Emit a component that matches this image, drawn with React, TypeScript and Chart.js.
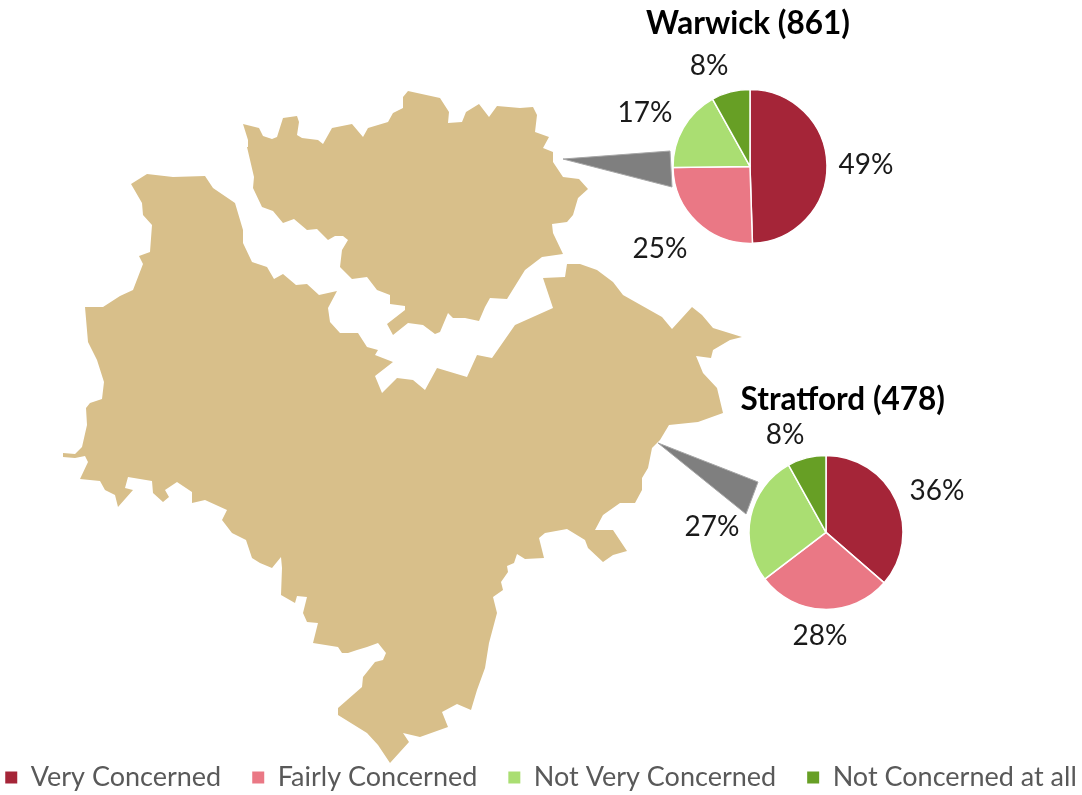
import React, { useEffect, useRef } from "react";
import { Chart, registerables } from "chart.js";

Chart.register(...registerables);

const FONT = "Lato, 'Open Sans', sans-serif";

const categories = ["Very Concerned", "Fairly Concerned", "Not Very Concerned", "Not Concerned at all"];
const warwickValues = [49, 25, 17, 8];
const stratfordValues = [36, 28, 27, 8];
const warwickTitle = "Warwick (861)";
const stratfordTitle = "Stratford (478)";
const sliceColors = ["#a52538", "#ea7885", "#aade72", "#679f25"];

type P = [number, number];

// Map outlines, in image units
const warwickOutline: P[] = [
  [243,124],[259,128],[263,136],[272,139],[277,137],[283,118],[297,116],[299,122],[297,135],[302,138],[318,140],[323,144],
  [332,128],[352,124],[363,137],[368,128],[388,122],[393,113],[403,108],[403,97],[408,91],[440,98],[449,112],[448,123],
  [462,122],[466,112],[479,104],[489,117],[497,106],[520,108],[533,107],[537,115],[535,132],[549,137],[543,148],[553,152],
  [553,162],[563,177],[579,179],[588,189],[578,198],[573,215],[567,222],[552,224],[553,233],[563,254],[542,257],[525,270],
  [507,299],[490,298],[485,307],[479,321],[465,318],[453,318],[448,313],[440,332],[435,334],[423,325],[408,323],[393,335],
  [387,324],[405,310],[405,306],[390,304],[390,295],[377,290],[367,277],[352,279],[340,267],[342,250],[348,240],[343,236],
  [335,236],[328,240],[317,229],[307,230],[294,219],[283,223],[273,211],[262,207],[253,188],[254,177],[247,147],[248,140],
];
const southOutline: P[] = [
  [131,184],[147,174],[173,177],[205,176],[213,188],[235,203],[243,230],[243,243],[252,262],[267,267],[274,279],[283,274],
  [296,285],[307,284],[319,295],[337,291],[328,308],[330,322],[340,333],[358,333],[367,347],[378,350],[375,355],[393,362],
  [375,376],[382,393],[397,378],[413,380],[425,390],[437,368],[467,377],[477,355],[492,358],[515,325],[553,308],[543,278],
  [565,277],[567,264],[580,264],[597,270],[613,282],[623,295],[662,317],[672,329],[692,307],[702,315],[713,328],[742,337],
  [730,340],[713,350],[711,358],[696,356],[703,373],[717,388],[723,413],[698,422],[669,425],[660,440],[652,448],[648,468],
  [642,478],[642,490],[635,503],[620,503],[603,515],[595,530],[613,530],[627,551],[613,555],[603,562],[588,548],[585,540],
  [567,529],[545,533],[539,538],[544,558],[525,559],[517,554],[514,563],[507,566],[508,572],[501,582],[503,590],[493,597],
  [497,613],[489,643],[485,668],[477,690],[471,710],[457,704],[442,712],[448,727],[420,737],[403,733],[409,742],[390,763],
  [378,745],[367,733],[338,715],[338,708],[362,687],[363,677],[375,662],[383,660],[386,653],[378,643],[367,647],[357,650],
  [348,653],[342,653],[338,647],[313,643],[318,623],[307,622],[303,613],[307,597],[297,596],[295,603],[281,595],[282,568],
  [281,557],[272,568],[260,563],[252,558],[246,540],[232,533],[222,520],[227,510],[205,500],[192,503],[192,492],[177,482],
  [165,490],[169,497],[163,502],[153,493],[152,481],[128,477],[125,488],[133,490],[118,507],[115,495],[105,490],[100,481],
  [80,479],[88,462],[85,456],[75,458],[63,457],[63,453],[75,454],[82,447],[87,425],[86,408],[90,403],[102,399],[104,382],
  [97,360],[88,342],[85,307],[103,307],[120,296],[133,290],[143,264],[139,256],[150,252],[152,225],[143,215],[142,203],
];
const warwickPointer: P[] = [[563,159],[670,151],[672,187]];
const stratfordPointer: P[] = [[658,443],[758,482],[746,514]];

const toXY = (pts: P[]) => [...pts, pts[0]].map(([x, y]) => ({ x, y }));

const outlineSet = (pts: P[], color: string, border: string, width: number) => ({
  data: toXY(pts),
  showLine: true,
  fill: "shape",
  tension: 0,
  pointRadius: 0,
  backgroundColor: color,
  borderColor: border,
  borderWidth: width,
});

const labelPlugin = {
  id: "sliceLabels",
  afterDatasetsDraw(chart: any, _a: any, opts: any) {
    const { ctx } = chart;
    const arcs = chart.getDatasetMeta(0).data;
    const values = chart.data.datasets[0].data;
    ctx.save();
    ctx.font = `28px ${FONT}`;
    ctx.fillStyle = "#1a1a1a";
    ctx.textAlign = "center";
    ctx.textBaseline = "middle";
    arcs.forEach((arc: any, i: number) => {
      const [dx, dy] = opts.offsets[i];
      ctx.fillText(`${values[i]}%`, arc.x + dx, arc.y + dy);
    });
    ctx.restore();
  },
};

const pieConfig = (
  values: number[],
  title: string,
  titleAlign: "start" | "end",
  titleTop: number,
  padding: any,
  offsets: P[]
) => ({
  type: "pie" as const,
  plugins: [labelPlugin],
  data: {
    labels: categories,
    datasets: [{ data: values, backgroundColor: sliceColors, borderColor: "#ffffff", borderWidth: 1.5, radius: 77 }],
  },
  options: {
    responsive: false,
    animation: false as const,
    events: [],
    layout: { padding },
    plugins: {
      legend: { display: false },
      tooltip: { enabled: false },
      title: {
        display: true,
        text: title,
        align: titleAlign,
        color: "#000000",
        font: { family: FONT, size: 31.5, weight: "bold" as const },
        padding: { top: titleTop, bottom: 0 },
      },
      sliceLabels: { offsets },
    },
  },
});

const abs = (left: number, top: number): React.CSSProperties => ({ position: "absolute", left, top, display: "block" });

export default function App() {
  const mapRef = useRef<HTMLCanvasElement>(null);
  const warwickRef = useRef<HTMLCanvasElement>(null);
  const stratfordRef = useRef<HTMLCanvasElement>(null);
  const legendRef = useRef<HTMLCanvasElement>(null);

  useEffect(() => {
    const charts: Chart[] = [];
    charts.push(
      new Chart(mapRef.current!, {
        type: "scatter",
        data: {
          datasets: [
            outlineSet(southOutline, "#d8bf8a", "#d8bf8a", 0),
            outlineSet(warwickOutline, "#d8bf8a", "#d8bf8a", 0),
            outlineSet(warwickPointer, "#7f7f7f", "#a6a6a6", 1),
            outlineSet(stratfordPointer, "#7f7f7f", "#a6a6a6", 1),
          ] as any,
        },
        options: {
          responsive: false,
          animation: false,
          events: [],
          layout: { padding: 0 },
          scales: {
            x: { type: "linear", min: 0, max: 1082, display: false },
            y: { type: "linear", min: 0, max: 795, reverse: true, display: false },
          },
          plugins: { legend: { display: false }, tooltip: { enabled: false } },
        },
      })
    );
    charts.push(
      new Chart(
        warwickRef.current!,
        pieConfig(warwickValues, warwickTitle, "start", 5, { left: 67, right: 65, bottom: 10 }, [
          [116, -1],
          [-90, 83],
          [-105, -53],
          [-41, -100],
        ]) as any
      )
    );
    charts.push(
      new Chart(
        stratfordRef.current!,
        pieConfig(stratfordValues, stratfordTitle, "end", 11, { left: 35, right: 67, bottom: 24 }, [
          [111, -41],
          [-6, 104],
          [-114, -5],
          [-41, -97],
        ]) as any
      )
    );
    charts.push(
      new Chart(legendRef.current!, {
        type: "pie",
        data: {
          labels: categories,
          datasets: [{ data: warwickValues, backgroundColor: sliceColors, borderWidth: 0, radius: 0 }],
        },
        options: {
          responsive: false,
          animation: false,
          events: [],
          plugins: {
            tooltip: { enabled: false },
            legend: {
              position: "top",
              labels: {
                boxWidth: 12,
                boxHeight: 12,
                padding: 31,
                color: "#595959",
                font: { family: FONT, size: 27 },
              },
            },
          },
        },
      } as any)
    );
    return () => charts.forEach((c) => c.destroy());
  }, []);

  return (
    <div style={{ position: "absolute", left: 0, top: 0, width: 1082, height: 795, background: "#fff", overflow: "hidden" }}>
      <canvas ref={mapRef} width={1082} height={795} style={abs(0, 0)} />
      <canvas ref={warwickRef} width={340} height={300} style={abs(579, 0)} />
      <canvas ref={stratfordRef} width={340} height={300} style={abs(672, 370)} />
      <canvas ref={legendRef} width={1200} height={220} style={abs(-59, 733)} />
    </div>
  );
}
